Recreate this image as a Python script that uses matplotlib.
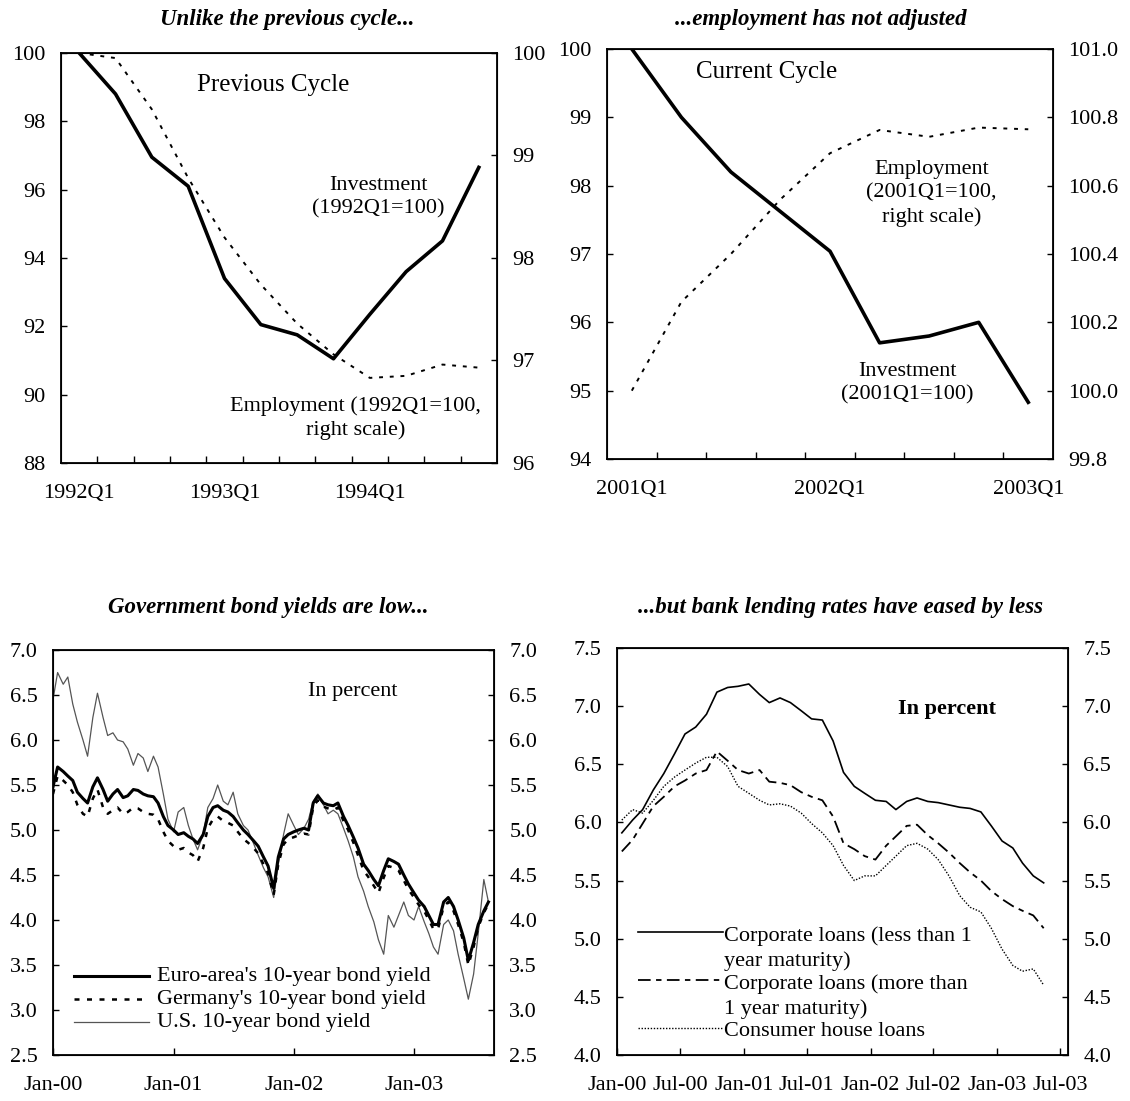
import numpy as np
import pandas as pd
import matplotlib
matplotlib.use('Agg')
import matplotlib.pyplot as plt
import matplotlib.dates as mdates

plt.rcParams['font.family'] = ['Liberation Serif', 'DejaVu Serif']

# ---------------- data ----------------
# panel 1: previous cycle (quarterly, 1992Q1 = 100)
quarters_prev = ['1992Q1', '1992Q2', '1992Q3', '1992Q4', '1993Q1', '1993Q2',
                 '1993Q3', '1993Q4', '1994Q1', '1994Q2', '1994Q3', '1994Q4']
invest_prev = [100.0, 98.8, 96.95, 96.1, 93.4, 92.05, 91.75, 91.05, 92.35, 93.6, 94.5, 96.65]
employ_prev = [100.0, 99.95, 99.45, 98.78, 98.2, 97.74, 97.36, 97.06, 96.83, 96.85, 96.96, 96.93]

# panel 2: current cycle (quarterly, 2001Q1 = 100)
quarters_cur = ['2001Q1', '2001Q2', '2001Q3', '2001Q4', '2002Q1', '2002Q2',
                '2002Q3', '2002Q4', '2003Q1']
invest_cur = [100.0, 99.0, 98.2, 97.62, 97.04, 95.7, 95.8, 96.0, 94.83]
employ_cur = [100.0, 100.26, 100.40, 100.56, 100.695, 100.763, 100.743, 100.77, 100.765]

# panel 3: 10-year government bond yields, semi-monthly readings
bond_dates = pd.date_range('2000-01-01', '2003-08-15', freq='SMS')
us_yield = [6.45, 6.75, 6.62, 6.70, 6.40, 6.20, 6.00, 5.82, 6.25, 6.52,
            6.25, 6.05, 6.08, 6.00, 5.98, 5.90, 5.72, 5.85, 5.80, 5.65,
            5.82, 5.70, 5.40, 5.12, 4.98, 5.20, 5.25, 5.05, 4.90, 4.78,
            4.95, 5.25, 5.35, 5.50, 5.32, 5.28, 5.42, 5.18, 5.05, 5.00,
            4.85, 4.72, 4.58, 4.48, 4.25, 4.62, 4.95, 5.18, 5.05, 4.95,
            5.02, 5.12, 5.32, 5.40, 5.28, 5.18, 5.22, 5.18, 5.02, 4.88,
            4.70, 4.48, 4.32, 4.15, 3.98, 3.78, 3.62, 4.05, 3.92, 4.05,
            4.20, 4.05, 4.00, 4.15, 3.98, 3.85, 3.70, 3.62, 3.95, 4.00,
            3.88, 3.62, 3.35, 3.12, 3.40, 3.85, 4.45, 4.20]
euro_yield = [5.48, 5.70, 5.65, 5.60, 5.55, 5.42, 5.35, 5.30, 5.48, 5.58,
              5.45, 5.32, 5.40, 5.45, 5.36, 5.38, 5.45, 5.44, 5.40, 5.38,
              5.37, 5.30, 5.15, 5.05, 5.00, 4.95, 4.97, 4.93, 4.90, 4.85,
              4.95, 5.15, 5.25, 5.27, 5.22, 5.20, 5.15, 5.08, 5.00, 4.95,
              4.88, 4.82, 4.70, 4.60, 4.35, 4.70, 4.90, 4.95, 4.98, 5.00,
              5.02, 5.00, 5.30, 5.38, 5.30, 5.28, 5.27, 5.30, 5.15, 5.05,
              4.92, 4.80, 4.62, 4.55, 4.45, 4.38, 4.55, 4.68, 4.65, 4.62,
              4.50, 4.40, 4.30, 4.22, 4.15, 4.05, 3.95, 3.95, 4.20, 4.25,
              4.15, 4.00, 3.80, 3.55, 3.75, 3.95, 4.10, 4.20]
germany_yield = [5.40, 5.60, 5.55, 5.50, 5.42, 5.28, 5.18, 5.15, 5.35, 5.45,
                 5.25, 5.18, 5.22, 5.25, 5.18, 5.20, 5.25, 5.24, 5.20, 5.18,
                 5.17, 5.12, 4.98, 4.88, 4.82, 4.78, 4.80, 4.75, 4.72, 4.65,
                 4.80, 5.02, 5.12, 5.15, 5.10, 5.08, 5.05, 4.98, 4.90, 4.86,
                 4.80, 4.74, 4.62, 4.52, 4.28, 4.62, 4.84, 4.90, 4.92, 4.94,
                 4.96, 4.95, 5.26, 5.33, 5.26, 5.24, 5.22, 5.25, 5.10, 5.00,
                 4.86, 4.72, 4.55, 4.48, 4.38, 4.30, 4.47, 4.60, 4.58, 4.55,
                 4.44, 4.34, 4.25, 4.17, 4.10, 4.00, 3.90, 3.90, 4.15, 4.20,
                 4.10, 3.95, 3.75, 3.50, 3.70, 3.92, 4.08, 4.18]

# panel 4: bank lending rates, monthly (mid-month)
loan_dates = pd.date_range('2000-01-01', '2003-05-01', freq='MS') + pd.Timedelta(days=14)
corp_short = [5.91, 6.02, 6.11, 6.28, 6.42, 6.59, 6.76, 6.82, 6.93, 7.12,
              7.16, 7.17, 7.19, 7.10, 7.03, 7.07, 7.03, 6.96, 6.89, 6.88,
              6.70, 6.43, 6.31, 6.25, 6.19, 6.18, 6.11, 6.18, 6.21, 6.18,
              6.17, 6.15, 6.13, 6.12, 6.09, 5.97, 5.84, 5.78, 5.65, 5.54, 5.48]
corp_long = [5.75, 5.85, 5.99, 6.14, 6.22, 6.31, 6.36, 6.42, 6.45, 6.61,
             6.53, 6.45, 6.42, 6.45, 6.35, 6.34, 6.32, 6.26, 6.22, 6.19,
             6.05, 5.82, 5.77, 5.71, 5.68, 5.80, 5.88, 5.97, 5.98, 5.89,
             5.82, 5.74, 5.65, 5.57, 5.50, 5.41, 5.34, 5.28, 5.24, 5.20, 5.09]
house_loans = [6.02, 6.11, 6.08, 6.19, 6.31, 6.39, 6.45, 6.51, 6.56, 6.56,
               6.48, 6.31, 6.25, 6.19, 6.15, 6.16, 6.14, 6.08, 5.99, 5.91,
               5.80, 5.63, 5.50, 5.54, 5.54, 5.63, 5.71, 5.80, 5.82, 5.77,
               5.68, 5.54, 5.37, 5.27, 5.23, 5.09, 4.91, 4.77, 4.72, 4.74, 4.60]
loan_ticks = pd.date_range('2000-01-01', '2003-07-01', freq='6MS')

FS = 16
TFS = 16.5


def style_axes(ax, right):
    for s in ax.spines.values():
        s.set_linewidth(1.3)
    ax.tick_params(axis='y', direction='in', length=4, width=1, labelsize=FS, pad=11)
    ax.tick_params(axis='x', direction='in', length=5, width=1, labelsize=FS, pad=15)
    ax.tick_params(axis='x', which='minor', direction='in', length=5, width=1)
    right.tick_params(axis='y', direction='in', length=4, width=1, labelsize=FS, pad=11)


fig = plt.figure(figsize=(11.3, 11.01), dpi=100)

# ---------------- panel 1 ----------------
ax1 = fig.add_axes([0.0540, 0.5795, 0.3858, 0.3724])
ax1r = ax1.twinx()
x1 = np.arange(len(quarters_prev))
ax1.plot(x1, invest_prev, color='black', lw=2.6)
ax1r.plot(x1, employ_prev, color='black', lw=1.4, ls=(0, (2, 3.5)))
ax1.set_xlim(-0.5, len(x1) - 0.5)
ax1.set_ylim(88, 100)
ax1.set_yticks(np.arange(88, 101, 2))
ax1r.set_ylim(96, 100)
ax1r.set_yticks(np.arange(96, 101, 1))
ax1.set_xticks(x1[::4])
ax1.set_xticklabels(quarters_prev[::4])
ax1.set_xticks(x1[:-1] + 0.5, minor=True)
style_axes(ax1, ax1r)
ax1.tick_params(axis='x', which='major', length=0)
ax1.text(0.486, 0.923, 'Previous Cycle', transform=ax1.transAxes, ha='center', va='center', fontsize=18)
ax1.text(0.728, 0.649, 'Investment\n(1992Q1=100)', transform=ax1.transAxes, ha='center', va='center',
         fontsize=FS, linespacing=1.3)
ax1.text(0.675, 0.110, 'Employment (1992Q1=100,\nright scale)', transform=ax1.transAxes, ha='center',
         va='center', fontsize=FS, linespacing=1.3)
fig.text(287 / 1130, 1 - 19 / 1101, 'Unlike the previous cycle...', ha='center', va='center',
         fontsize=TFS, style='italic', weight='bold')

# ---------------- panel 2 ----------------
ax2 = fig.add_axes([0.5372, 0.5831, 0.3947, 0.3724])
ax2r = ax2.twinx()
x2 = np.arange(len(quarters_cur))
ax2.plot(x2, invest_cur, color='black', lw=2.6)
ax2r.plot(x2, employ_cur, color='black', lw=1.4, ls=(0, (2, 3.5)))
ax2.set_xlim(-0.5, len(x2) - 0.5)
ax2.set_ylim(94, 100)
ax2.set_yticks(np.arange(94, 101, 1))
ax2r.set_ylim(99.8, 101.0)
ax2r.set_yticks(np.round(np.arange(99.8, 101.01, 0.2), 1))
ax2r.yaxis.set_major_formatter(matplotlib.ticker.FormatStrFormatter('%.1f'))
ax2.set_xticks(x2[::4])
ax2.set_xticklabels(quarters_cur[::4])
ax2.set_xticks(x2[:-1] + 0.5, minor=True)
style_axes(ax2, ax2r)
ax2.tick_params(axis='x', which='major', length=0)
ax2.text(0.358, 0.943, 'Current Cycle', transform=ax2.transAxes, ha='center', va='center', fontsize=18)
ax2.text(0.728, 0.648, 'Employment\n(2001Q1=100,\nright scale)', transform=ax2.transAxes, ha='center',
         va='center', fontsize=FS, linespacing=1.3)
ax2.text(0.674, 0.185, 'Investment\n(2001Q1=100)', transform=ax2.transAxes, ha='center', va='center',
         fontsize=FS, linespacing=1.3)
fig.text(821 / 1130, 1 - 19 / 1101, '...employment has not adjusted', ha='center', va='center',
         fontsize=TFS, style='italic', weight='bold')

# ---------------- panel 3 ----------------
ax3 = fig.add_axes([0.0469, 0.0418, 0.3903, 0.3678])
ax3r = ax3.twinx()
ax3.plot(bond_dates, us_yield, color='#555555', lw=0.9)
ax3.plot(bond_dates, euro_yield, color='black', lw=2.2)
ax3.plot(bond_dates, germany_yield, color='black', lw=1.8, ls=(0, (2, 3)))
ax3.set_xlim(pd.Timestamp('2000-01-01'), pd.Timestamp('2003-09-01'))
for a in (ax3, ax3r):
    a.set_ylim(2.5, 7.0)
    a.set_yticks(np.arange(2.5, 7.01, 0.5))
    a.yaxis.set_major_formatter(matplotlib.ticker.FormatStrFormatter('%.1f'))
ax3.set_xticks(pd.date_range('2000-01-01', '2003-01-01', freq='YS'))
ax3.xaxis.set_major_formatter(mdates.DateFormatter('%b-%y'))
style_axes(ax3, ax3r)
ax3.text(0.679, 0.897, 'In percent', transform=ax3.transAxes, ha='center', va='center', fontsize=FS)
leg3 = [("Euro-area's 10-year bond yield", dict(color='black', lw=2.2)),
        ("Germany's 10-year bond yield", dict(color='black', lw=1.8, ls=(0, (2, 3)))),
        ("U.S. 10-year bond yield", dict(color='#555555', lw=0.9))]
for i, (lab, kw) in enumerate(leg3):
    yy = 0.195 - 0.057 * i
    ax3.plot([0.047, 0.218], [yy, yy], transform=ax3.transAxes, **kw)
    ax3.text(0.236, yy, lab, transform=ax3.transAxes, ha='left', va='center', fontsize=FS)
fig.text(268 / 1130, 1 - 607 / 1101, 'Government bond yields are low...', ha='center', va='center',
         fontsize=TFS, style='italic', weight='bold')

# ---------------- panel 4 ----------------
ax4 = fig.add_axes([0.5460, 0.0418, 0.3991, 0.3697])
ax4r = ax4.twinx()
ax4.plot(loan_dates, corp_short, color='black', lw=1.2)
ax4.plot(loan_dates, corp_long, color='black', lw=1.3, ls=(0, (7, 3, 3, 3)))
ax4.plot(loan_dates, house_loans, color='black', lw=1.0, ls=(0, (1, 1.2)))
ax4.set_xlim(pd.Timestamp('2000-01-01'), pd.Timestamp('2003-07-24'))
for a in (ax4, ax4r):
    a.set_ylim(4.0, 7.5)
    a.set_yticks(np.arange(4.0, 7.51, 0.5))
    a.yaxis.set_major_formatter(matplotlib.ticker.FormatStrFormatter('%.1f'))
ax4.set_xticks(loan_ticks)
ax4.xaxis.set_major_formatter(mdates.DateFormatter('%b-%y'))
style_axes(ax4, ax4r)
ax4.text(0.731, 0.85, 'In percent', transform=ax4.transAxes, ha='center', va='center', fontsize=FS,
         weight='bold')
leg4 = [('Corporate loans (less than 1\nyear maturity)', dict(color='black', lw=1.2), 0.302),
        ('Corporate loans (more than\n1 year maturity)', dict(color='black', lw=1.3, ls=(0, (7, 3, 3, 3))), 0.184),
        ('Consumer house loans', dict(color='black', lw=1.0, ls=(0, (1, 1.2))), 0.067)]
for lab, kw, yy in leg4:
    ax4.plot([0.046, 0.234], [yy, yy], transform=ax4.transAxes, **kw)
    ax4.text(0.238, yy + 0.014, lab, transform=ax4.transAxes, ha='left', va='top', fontsize=FS,
             linespacing=1.35)
fig.text(840 / 1130, 1 - 608 / 1101, '...but bank lending rates have eased by less', ha='center',
         va='center', fontsize=TFS, style='italic', weight='bold')

fig.savefig('out.png', dpi=100)
